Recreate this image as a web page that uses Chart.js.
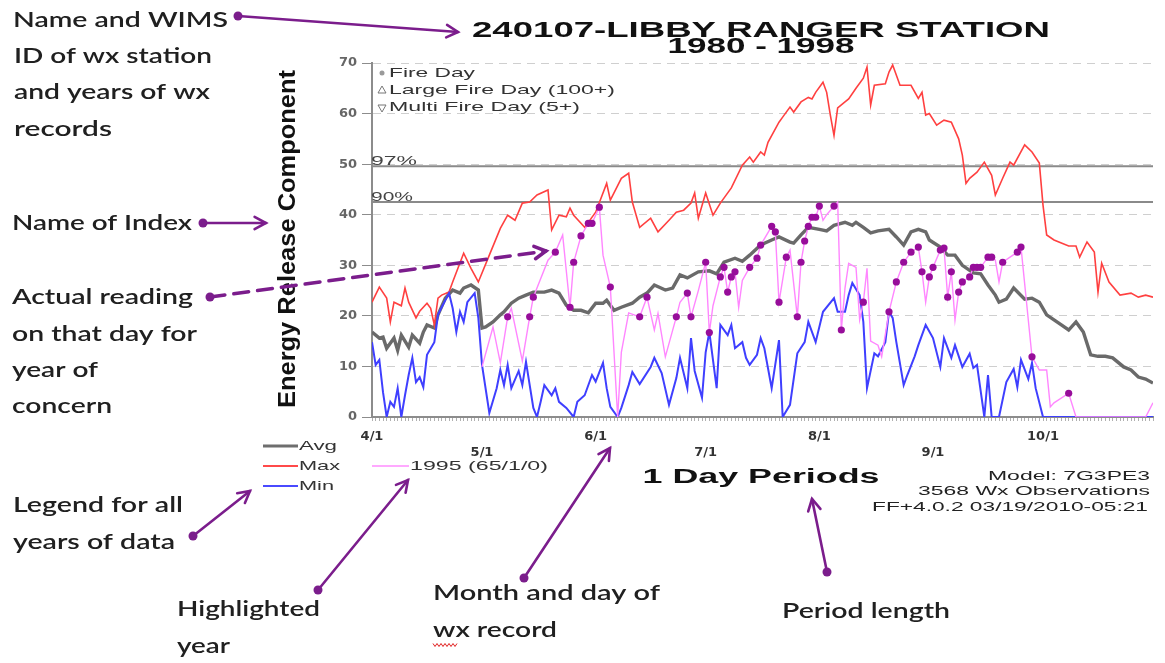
<!DOCTYPE html>
<html>
<head>
<meta charset="utf-8">
<script src="https://cdn.jsdelivr.net/npm/chart.js@4.4.1/dist/chart.umd.min.js"></script>
<style>
  html, body { margin: 0; padding: 0; background: #ffffff; }
  #wrap { width: 1165px; height: 663px; position: relative; }
  canvas { display: block; }
</style>
</head>
<body>
<div id="wrap"><canvas id="c" width="1165" height="663"></canvas></div>
<script>
// ---------------- data (day index 0 = 4/1) ----------------
const monthStartDays = [0, 30, 61, 91, 122, 153, 183];
const monthLabels = ['4/1', '5/1', '6/1', '7/1', '8/1', '9/1', '10/1'];
const yTickValues = [0, 10, 20, 30, 40, 50, 60, 70];

const p97Value = 49.6;
const p90Value = 42.5;

const maxDays = [0,2,4,5,6,8,9,10,12,13,15,16,17,18,19,21,22,25,27,29,32,35,37,39,41,43,45,48,49,51,53,54,55,58,61,64,65,68,70,71,73,76,78,81,83,85,87,88,89,91,93,95,98,101,103,104,106,107,108,111,112,114,115,117,119,120,121,123,124,125,126,127,129,130,132,134,135,136,137,140,141,142,144,147,149,150,151,152,154,156,158,160,161,162,163,165,167,169,170,172,174,175,178,180,182,183,184,186,188,190,192,193,195,197,198,199,201,204,207,209,211,213];
const maxVals = [22.7,25.7,23.5,18.8,22.7,22.0,25.5,22.7,19.6,20.9,22.5,21.5,18.2,23.5,24.1,24.7,26.7,32.4,29.4,26.7,32.0,37.3,39.9,38.9,42.3,42.5,43.9,44.9,37.0,39.9,39.6,41.3,39.9,37.5,40.5,46.2,42.9,47.2,48.2,42.5,37.5,39.3,36.6,38.9,40.5,40.9,42.3,44.3,39.3,44.3,39.9,42.3,45.3,49.8,51.4,50.4,52.4,51.8,54.3,58.3,59.3,61.3,60.3,62.3,63.2,62.9,64.2,66.2,64.2,59.7,55.7,61.1,62.3,62.9,65.0,67.0,69.2,61.7,65.6,65.9,68.2,69.6,65.6,65.6,63.0,64.2,59.7,60.0,57.7,58.7,58.3,55.0,51.8,46.2,47.2,48.4,50.4,47.8,43.9,47.2,50.4,49.8,53.8,52.4,50.2,41.9,36.0,35.0,34.4,33.8,33.8,31.6,34.6,32.6,24.7,30.4,26.7,24.1,24.5,23.7,24.1,23.7];

const avgDays = [0,2,3,4,6,7,8,10,11,13,14,15,17,18,20,22,24,25,27,29,30,31,33,35,36,38,40,42,44,47,49,51,53,55,57,59,61,63,64,66,68,71,73,75,77,80,82,84,86,89,92,94,96,99,101,103,106,109,111,114,115,117,119,122,124,126,129,131,132,134,136,138,141,143,145,147,149,151,152,155,157,159,161,164,166,168,170,171,173,175,178,180,182,184,186,188,190,192,194,196,198,200,202,205,207,209,211,213];
const avgVals = [16.8,15.6,15.8,13.6,15.6,13.2,16.2,13.8,16.2,14.6,16.8,18.2,17.6,20.2,23.5,25.1,24.5,25.5,26.1,25.1,17.6,17.8,18.8,20.2,20.8,22.5,23.5,24.1,24.7,24.7,25.1,24.5,22.1,21.1,21.1,20.6,22.5,22.5,23.1,21.1,21.7,22.5,23.7,24.5,26.1,25.1,25.5,28.1,27.5,28.7,28.9,28.3,30.6,31.4,30.8,32.0,34.0,35.0,35.6,34.6,34.4,36.0,37.5,37.1,36.8,37.9,38.5,37.9,38.5,37.5,36.4,36.8,37.1,35.6,34.0,36.6,37.1,36.6,35.0,33.6,32.0,32.0,30.0,28.5,28.3,26.1,24.1,22.7,23.3,25.5,23.3,23.5,22.7,20.2,19.2,18.2,17.2,18.8,16.8,12.3,12.0,12.0,11.7,9.9,9.3,7.9,7.5,6.7];

const minDays = [0,1,2,3,4,5,6,7,8,9,10,11,12,13,14,15,17,18,19,21,22,23,24,25,26,28,29,30,32,34,35,36,37,38,40,41,42,44,45,46,47,49,50,51,53,55,56,58,60,61,63,64,65,67,68,70,71,73,76,77,79,81,83,84,86,87,88,90,91,92,94,95,97,98,99,101,102,103,105,106,107,109,111,112,114,116,118,119,121,123,126,127,129,130,131,133,134,135,137,138,140,141,142,143,145,146,148,149,151,153,155,156,158,159,161,163,164,165,167,168,169,171,173,175,176,177,179,180,181,183,213];
const minVals = [14.8,10.3,11.3,4.9,0,3.0,2.0,5.7,0,4.3,8.3,11.7,6.9,7.9,5.9,12.3,14.8,20.2,21.7,24.5,21.5,16.8,20.8,18.8,22.7,24.5,19.6,10.3,0.8,5.7,9.3,6.3,10.3,5.7,9.1,6.3,10.9,1.8,0,3.0,6.3,4.3,5.7,3.0,1.8,0,3.0,4.3,8.3,7.0,10.7,5.7,2.0,0,1.8,6.3,8.9,6.5,9.9,11.7,8.7,2.4,7.7,11.7,5.7,15.6,9.1,3.8,12.8,16.8,5.7,18.2,16.2,18.2,13.6,14.8,11.7,10.3,12.3,15.6,13.6,5.7,15.2,0,2.4,12.6,14.8,18.8,14.8,20.8,23.5,20.8,20.8,24.1,26.5,24.1,18.8,5.7,12.6,12.0,14.8,20.8,19.6,14.8,6.3,8.3,12.0,14.2,18.2,15.6,9.9,15.6,11.7,14.2,9.9,12.5,9.7,10.3,0,8.3,0,0,6.9,9.5,5.9,11.3,7.5,10.7,5.7,0,0];

const yr1995Days = [30,33,35,37,38,41,43,44,48,50,52,54,55,57,59,60,62,63,65,67,68,70,73,75,77,78,80,83,84,86,87,89,91,92,93,95,96,97,98,99,100,101,103,105,106,109,110,111,113,114,116,117,118,119,120,121,122,123,124,126,127,128,129,130,132,133,134,135,136,138,139,141,143,145,147,149,150,151,152,153,155,156,157,158,159,160,161,163,164,165,166,168,169,170,171,172,176,177,180,182,184,185,186,190,192,211,213];
const yr1995Vals = [9.9,17.8,10.7,19.8,21.5,11.1,19.8,23.7,31.0,32.6,36.0,21.7,30.6,35.8,38.3,38.3,41.5,32.0,25.7,0,12.8,20.6,19.8,23.7,17.2,20.5,11.9,19.8,22.7,24.5,19.8,25.0,30.6,16.7,22.0,27.7,29.6,24.7,27.7,28.7,21.7,27.0,29.6,31.4,34.0,37.7,36.6,22.7,31.6,33.0,19.8,30.6,34.8,37.7,39.5,39.5,41.7,38.9,40.0,41.7,42.5,17.2,25.5,30.4,29.6,19.2,22.7,29.4,15.0,14.2,11.9,20.8,26.7,30.6,32.6,33.6,28.7,22.7,27.7,29.6,33.0,33.4,23.7,28.7,19.2,24.7,26.7,27.7,29.6,29.6,29.6,31.6,31.6,31.0,26.7,30.6,32.6,33.6,11.9,9.3,9.3,2.0,2.8,4.7,0,0,2.8];

const fireDays = [37,43,44,50,54,55,57,59,60,62,65,73,75,83,86,87,91,92,95,96,97,98,99,103,105,106,109,110,111,113,116,117,118,119,120,121,122,126,128,134,141,143,145,147,149,150,152,153,155,156,157,158,160,161,163,164,165,166,168,169,172,176,177,180,190];

// ---------------- build datasets ----------------
const pts = (days, vals) => days.map((d, i) => ({ x: d, y: vals[i] }));
const firePts = fireDays.map(d => ({ x: d, y: yr1995Vals[yr1995Days.indexOf(d)] }));
const X_MIN = 0, X_MAX = 213;

// ---------------- text helpers ----------------
function fitText(ctx, text, x, y, w, font, color, align) {
  ctx.save();
  ctx.font = font;
  ctx.fillStyle = color;
  ctx.textBaseline = 'middle';
  ctx.textAlign = 'left';
  const m = ctx.measureText(text).width;
  const s = w / m;
  ctx.translate(x, y);
  ctx.scale(s, 1);
  const ox = align === 'center' ? -m / 2 : (align === 'right' ? -m : 0);
  ctx.fillText(text, ox, 0);
  ctx.restore();
}
function arrow(ctx, x1, y1, x2, y2, dashed) {
  ctx.save();
  ctx.strokeStyle = '#7b1d8c';
  ctx.fillStyle = '#7b1d8c';
  ctx.lineWidth = dashed ? 3.5 : 2.6;
  ctx.lineCap = 'round';
  ctx.beginPath(); ctx.arc(x1, y1, 4.5, 0, Math.PI * 2); ctx.fill();
  if (dashed) ctx.setLineDash([15, 9]);
  ctx.beginPath(); ctx.moveTo(x1, y1); ctx.lineTo(x2, y2); ctx.stroke();
  ctx.setLineDash([]);
  const a = Math.atan2(y2 - y1, x2 - x1), L = 13, sp = 0.5;
  ctx.beginPath();
  ctx.moveTo(x2 - L * Math.cos(a - sp), y2 - L * Math.sin(a - sp));
  ctx.lineTo(x2, y2);
  ctx.lineTo(x2 - L * Math.cos(a + sp), y2 - L * Math.sin(a + sp));
  ctx.stroke();
  ctx.restore();
}
function seg(ctx, x1, y1, x2, y2, color, w) {
  ctx.save(); ctx.strokeStyle = color; ctx.lineWidth = w;
  ctx.beginPath(); ctx.moveTo(x1, y1); ctx.lineTo(x2, y2); ctx.stroke(); ctx.restore();
}

const ANN_FONT = '600 21px Lato';
const ANN_COLOR = '#202020';
const CH_FONT = '13px "Liberation Sans"';

const overlay = {
  id: 'overlay',
  afterDraw(chart) {
    const ctx = chart.ctx;
    const ys = chart.scales.y;
    // Titles
    fitText(ctx, '240107-LIBBY RANGER STATION', 761, 31, 578, 'bold 22px "Liberation Sans"', '#111', 'center');
    fitText(ctx, '1980 - 1998', 761, 47, 187, 'bold 22px "Liberation Sans"', '#111', 'center');
    // Y axis title
    ctx.save();
    ctx.translate(289, 239);
    ctx.rotate(-Math.PI / 2);
    fitText(ctx, 'Energy Release Component', 0, 0, 338, 'bold 23px "Liberation Sans"', '#111', 'center');
    ctx.restore();
    // in-plot legend
    ctx.save();
    ctx.fillStyle = '#9a9a9a';
    ctx.beginPath(); ctx.arc(382, 73, 2.5, 0, Math.PI * 2); ctx.fill();
    ctx.strokeStyle = '#777'; ctx.lineWidth = 1;
    ctx.beginPath(); ctx.moveTo(378, 93); ctx.lineTo(386, 93); ctx.lineTo(382, 86); ctx.closePath(); ctx.stroke();
    ctx.beginPath(); ctx.moveTo(378, 105); ctx.lineTo(386, 105); ctx.lineTo(382, 112); ctx.closePath(); ctx.stroke();
    ctx.restore();
    fitText(ctx, 'Fire Day', 389, 73, 86, CH_FONT, '#333', 'left');
    fitText(ctx, 'Large Fire Day (100+)', 389, 90, 226, CH_FONT, '#333', 'left');
    fitText(ctx, 'Multi Fire Day (5+)', 389, 107, 191, CH_FONT, '#333', 'left');
    // percentile labels
    fitText(ctx, '97%', 371, ys.getPixelForValue(p97Value) - 5, 46, CH_FONT, '#444', 'left');
    fitText(ctx, '90%', 371, ys.getPixelForValue(p90Value) - 5, 42, CH_FONT, '#444', 'left');
    // bottom legend
    seg(ctx, 263, 446, 298, 446, '#6e6e6e', 3);
    seg(ctx, 263, 466, 298, 466, '#ff4a4a', 2);
    seg(ctx, 263, 486, 298, 486, '#4a4aff', 2);
    seg(ctx, 372, 466, 409, 466, '#ff8cff', 1.6);
    fitText(ctx, 'Avg', 299, 446, 38, CH_FONT, '#333', 'left');
    fitText(ctx, 'Max', 299, 466, 41, CH_FONT, '#333', 'left');
    fitText(ctx, 'Min', 299, 486, 35, CH_FONT, '#333', 'left');
    fitText(ctx, '1995 (65/1/0)', 410, 466, 138, CH_FONT, '#333', 'left');
    // x title and notes
    fitText(ctx, '1 Day Periods', 761, 477, 237, 'bold 20px "Liberation Sans"', '#111', 'center');
    fitText(ctx, 'Model: 7G3PE3', 1150, 476, 162, CH_FONT, '#222', 'right');
    fitText(ctx, '3568 Wx Observations', 1150, 491, 232, CH_FONT, '#222', 'right');
    fitText(ctx, 'FF+4.0.2 03/19/2010-05:21', 1148, 507, 276, CH_FONT, '#222', 'right');

    // ---------- slide annotations ----------
    const ann = [
      ['Name and WIMS', 13, 20, 215],
      ['ID of wx station', 14, 56, 198],
      ['and years of wx', 14, 92, 196],
      ['records', 14, 129, 98],
      ['Name of Index', 12, 223, 180],
      ['Actual reading', 12, 297, 181],
      ['on that day for', 12, 334, 185],
      ['year of', 12, 370, 86],
      ['concern', 12, 406, 100],
      ['Legend for all', 13, 505, 170],
      ['years of data', 13, 542, 162],
      ['Highlighted', 177, 609, 143],
      ['year', 177, 646, 53],
      ['Month and day of', 433, 593, 227],
      ['wx record', 433, 630, 124],
      ['Period length', 782, 611, 168]
    ];
    ann.forEach(a => fitText(ctx, a[0], a[1], a[2], a[3], ANN_FONT, ANN_COLOR, 'left'));
    // red squiggle under "wx"
    ctx.save();
    ctx.strokeStyle = '#e02020'; ctx.lineWidth = 1;
    ctx.beginPath();
    for (let i = 0; i <= 12; i++) {
      const x = 433 + i * 2, y = 645 + (i % 2 ? 1.5 : -1.5);
      if (i === 0) ctx.moveTo(x, y); else ctx.lineTo(x, y);
    }
    ctx.stroke();
    ctx.restore();
    // arrows
    arrow(ctx, 238, 16, 458, 32, false);
    arrow(ctx, 203, 223, 266, 223, false);
    arrow(ctx, 210, 297, 546, 251, true);
    arrow(ctx, 193, 536, 250, 491, false);
    arrow(ctx, 318, 590, 408, 480, false);
    arrow(ctx, 524, 578, 610, 448, false);
    arrow(ctx, 827, 572, 812, 499, false);
  }
};

const allDays = [];
for (let d = X_MIN; d <= X_MAX; d++) allDays.push(d);

new Chart(document.getElementById('c'), {
  type: 'line',
  data: {
    datasets: [
      { label: 'Fire Day', data: firePts, showLine: false, pointRadius: 3.6, pointBackgroundColor: '#970d9a', pointBorderWidth: 0, borderColor: '#970d9a' },
      { label: '1995 (65/1/0)', data: pts(yr1995Days, yr1995Vals), borderColor: '#ff86ff', borderWidth: 1.4, pointRadius: 0, tension: 0 },
      { label: 'Min', data: pts(minDays, minVals), borderColor: '#3f3fff', borderWidth: 2, pointRadius: 0, tension: 0 },
      { label: 'Max', data: pts(maxDays, maxVals), borderColor: '#ff4040', borderWidth: 1.6, pointRadius: 0, tension: 0 },
      { label: 'Avg', data: pts(avgDays, avgVals), borderColor: '#6a6a6a', borderWidth: 3.4, pointRadius: 0, tension: 0 },
      { label: '97%', data: [{ x: X_MIN, y: p97Value }, { x: X_MAX, y: p97Value }], borderColor: '#8a8a8a', borderWidth: 2, pointRadius: 0 },
      { label: '90%', data: [{ x: X_MIN, y: p90Value }, { x: X_MAX, y: p90Value }], borderColor: '#8a8a8a', borderWidth: 2, pointRadius: 0 }
    ]
  },
  options: {
    responsive: false,
    animation: false,
    devicePixelRatio: 1,
    layout: { padding: { left: 0, top: 63, right: 12, bottom: 0 } },
    plugins: { legend: { display: false }, tooltip: { enabled: false }, title: { display: false } },
    scales: {
      x: {
        type: 'linear',
        min: X_MIN,
        max: X_MAX,
        afterFit: s => { s.height = 246; },
        afterBuildTicks: axis => { axis.ticks = allDays.map(v => ({ value: v })); },
        ticks: {
          autoSkip: false,
          maxRotation: 0,
          minRotation: 0,
          padding: 8,
          color: '#333',
          font: { family: 'DejaVu Sans', size: 13, weight: 'bold' },
          callback: v => {
            const i = monthStartDays.indexOf(v);
            if (i < 0) return '';
            return i % 2 === 0 ? monthLabels[i] : ['', monthLabels[i]];
          }
        },
        grid: { drawOnChartArea: false, drawTicks: true, tickLength: 4, tickColor: '#b0b0b0', tickBorderDash: [] },
        border: { display: true, color: '#8c8c8c', width: 2 }
      },
      y: {
        min: 0,
        max: 70,
        afterFit: s => { s.width = 372; },
        afterBuildTicks: axis => { axis.ticks = yTickValues.map(v => ({ value: v })); },
        ticks: {
          padding: 5,
          color: '#666',
          font: { family: 'DejaVu Sans', size: 13, weight: 'bold' }
        },
        grid: { color: '#cfcfcf', lineWidth: 1, tickLength: 10, tickColor: '#8c8c8c', tickBorderDash: [] },
        border: { display: true, color: '#8c8c8c', width: 2, dash: [8, 6] }
      }
    }
  },
  plugins: [overlay]
});
</script>
</body>
</html>
